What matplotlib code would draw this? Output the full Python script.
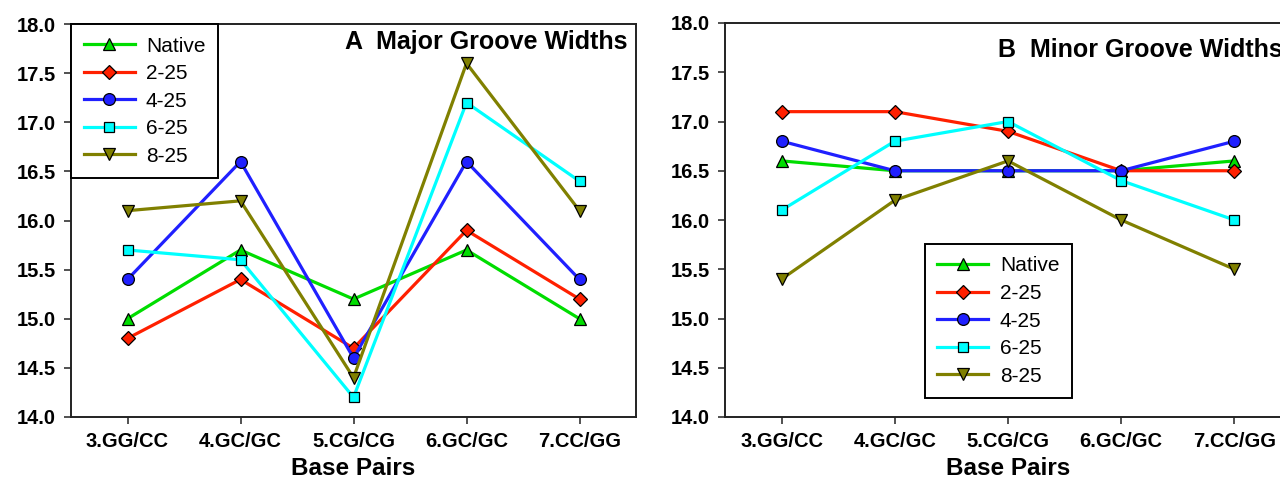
import matplotlib.pyplot as plt

plt.rcParams['font.family'] = ['Liberation Sans', 'DejaVu Sans']

base_pairs = ["3.GG/CC", "4.GC/GC", "5.CG/CG", "6.GC/GC", "7.CC/GG"]
series_names = ["Native", "2-25", "4-25", "6-25", "8-25"]

major_native = [15.0, 15.7, 15.2, 15.7, 15.0]
major_2_25 = [14.8, 15.4, 14.7, 15.9, 15.2]
major_4_25 = [15.4, 16.6, 14.6, 16.6, 15.4]
major_6_25 = [15.7, 15.6, 14.2, 17.2, 16.4]
major_8_25 = [16.1, 16.2, 14.4, 17.6, 16.1]

minor_native = [16.6, 16.5, 16.5, 16.5, 16.6]
minor_2_25 = [17.1, 17.1, 16.9, 16.5, 16.5]
minor_4_25 = [16.8, 16.5, 16.5, 16.5, 16.8]
minor_6_25 = [16.1, 16.8, 17.0, 16.4, 16.0]
minor_8_25 = [15.4, 16.2, 16.6, 16.0, 15.5]

colors = ["#00dd00", "#ff2000", "#2020ff", "#00ffff", "#808000"]
markers = ["^", "D", "o", "s", "v"]
msizes = [8, 7, 8.5, 7, 8]

tick_font = dict(fontsize=14.5, fontweight="bold")

fig = plt.figure(figsize=(12.8, 4.82), dpi=100)
ax1 = fig.add_axes([71/1280, 1-417/482, 565/1280, 393/482])
ax2 = fig.add_axes([725/1280, 1-417/482, 566/1280, 394/482])

panels = [
    (ax1, [major_native, major_2_25, major_4_25, major_6_25, major_8_25], "A  Major Groove Widths", 0.985),
    (ax2, [minor_native, minor_2_25, minor_4_25, minor_6_25, minor_8_25], "B  Minor Groove Widths", 0.962),
]

x = list(range(len(base_pairs)))
for ax, data, title, ty in panels:
    for vals, name, c, m, ms in zip(data, series_names, colors, markers, msizes):
        ax.plot(x, vals, color=c, lw=2.3, marker=m, ms=ms, mfc=c, mec="black",
                mew=0.9, label=name)
    ax.set_xlim(-0.5, 4.5)
    ax.set_ylim(14.0, 18.0)
    ax.set_yticks([14.0, 14.5, 15.0, 15.5, 16.0, 16.5, 17.0, 17.5, 18.0])
    ax.set_yticklabels([f"{v:.1f}" for v in ax.get_yticks()], **tick_font)
    ax.set_xticks(x)
    ax.set_xticklabels(base_pairs, **tick_font)
    ax.tick_params(direction="out", length=5, width=1.2, pad=6, color="#333333")
    for s in ax.spines.values():
        s.set_linewidth(1.4)
        s.set_color("#222222")
    ax.set_xlabel("Base Pairs", fontsize=17.5, fontweight="bold", labelpad=4)
    ax.text(0.985, ty, title, transform=ax.transAxes, ha="right", va="top",
            fontsize=18, fontweight="bold")

leg_kw = dict(fontsize=15, handlelength=2.45, handletextpad=0.55, labelspacing=0.41,
              borderaxespad=0, fancybox=False, framealpha=1, edgecolor="black",
              borderpad=0.6)
l1 = ax1.legend(loc="upper left", **leg_kw)
l2 = ax2.legend(loc="lower left", bbox_to_anchor=(0.353, 0.048), **leg_kw)
for l in (l1, l2):
    l.get_frame().set_linewidth(1.4)

fig.savefig("out.png", dpi=100)
